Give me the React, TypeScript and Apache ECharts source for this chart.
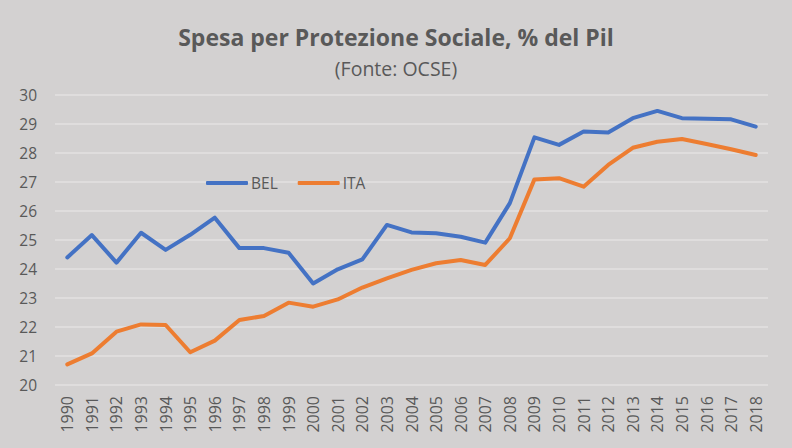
import React, { useEffect, useRef } from "react";
import * as echarts from "echarts";

const years = [
  "1990", "1991", "1992", "1993", "1994", "1995", "1996", "1997", "1998", "1999",
  "2000", "2001", "2002", "2003", "2004", "2005", "2006", "2007", "2008", "2009",
  "2010", "2011", "2012", "2013", "2014", "2015", "2016", "2017", "2018",
];

const bel = [
  24.4, 25.17, 24.22, 25.25, 24.66, 25.18, 25.77, 24.72, 24.72, 24.56,
  23.5, 23.99, 24.33, 25.52, 25.26, 25.23, 25.11, 24.91, 26.27, 28.54,
  28.28, 28.74, 28.71, 29.2, 29.45, 29.2, 29.18, 29.16, 28.91,
];

const ita = [
  20.71, 21.09, 21.84, 22.09, 22.07, 21.13, 21.53, 22.24, 22.38, 22.84,
  22.7, 22.95, 23.36, 23.68, 23.97, 24.2, 24.31, 24.14, 25.06, 27.09,
  27.13, 26.84, 27.59, 28.18, 28.39, 28.48, 28.31, 28.13, 27.93,
];

const FONT = "'Open Sans', sans-serif";
const TEXT = "#595959";

export default function App() {
  const ref = useRef<HTMLDivElement>(null);
  useEffect(() => {
    if (!ref.current) return;
    const chart = echarts.init(ref.current, null, { renderer: "svg" });
    chart.setOption({
      animation: false,
      backgroundColor: "#d3d1d1",
      textStyle: { fontFamily: FONT },
      title: {
        text: "Spesa per Protezione Sociale, % del Pil",
        subtext: "(Fonte: OCSE)",
        left: "center",
        top: 20,
        itemGap: 10,
        textStyle: { fontFamily: FONT, fontSize: 23, fontWeight: "bold", color: TEXT },
        subtextStyle: { fontFamily: FONT, fontSize: 19.5, color: TEXT },
      },
      legend: {
        left: 201,
        top: 170,
        icon: "roundRect",
        itemWidth: 42,
        itemHeight: 4,
        itemGap: 20,
        textStyle: { fontFamily: FONT, fontSize: 15.5, color: TEXT, padding: [0, 0, 0, -2] },
        data: ["BEL", "ITA"],
      },
      grid: { left: 55, right: 24, top: 95, bottom: 63 },
      xAxis: {
        type: "category",
        data: years,
        boundaryGap: true,
        axisLine: { show: false },
        axisTick: { show: false },
        axisLabel: {
          rotate: 90,
          color: TEXT,
          fontFamily: FONT,
          fontSize: 16,
          margin: 11,
          interval: 0,
        },
      },
      yAxis: {
        type: "value",
        min: 20,
        max: 30,
        interval: 1,
        axisLine: { show: false },
        axisTick: { show: false },
        axisLabel: { color: TEXT, fontFamily: FONT, fontSize: 15.5, margin: 18 },
        splitLine: { lineStyle: { color: "#e3e1e1", width: 1.5 } },
      },
      series: [
        {
          name: "BEL",
          type: "line",
          data: bel,
          symbol: "none",
          lineStyle: { color: "#4472C4", width: 4, cap: "round", join: "round" },
          itemStyle: { color: "#4472C4" },
        },
        {
          name: "ITA",
          type: "line",
          data: ita,
          symbol: "none",
          lineStyle: { color: "#ED7D31", width: 4, cap: "round", join: "round" },
          itemStyle: { color: "#ED7D31" },
        },
      ],
    });
    return () => chart.dispose();
  }, []);
  return (
    <div
      ref={ref}
      style={{ position: "fixed", left: 0, top: 0, width: 792, height: 448 }}
    />
  );
}
